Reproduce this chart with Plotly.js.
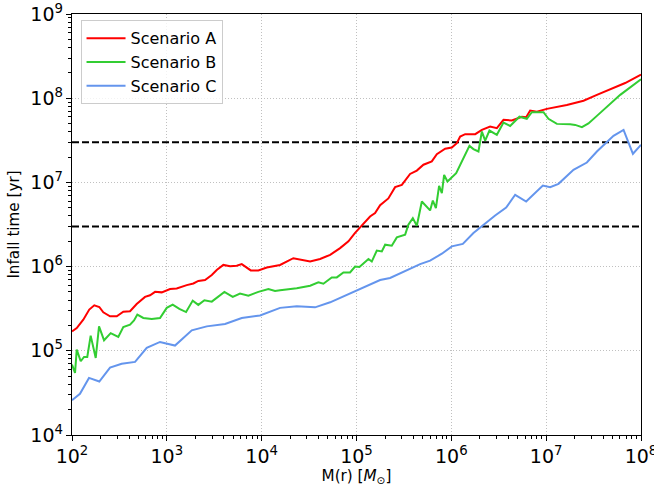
<!DOCTYPE html>
<html>
<head>
<meta charset="utf-8">
<script src="https://cdn.plot.ly/plotly-3.0.1.min.js"></script>
<style>html,body{margin:0;padding:0;background:#fff;}#chart{width:654px;height:490px;}</style>
</head>
<body>
<div id="chart"></div>
<script>
// log10 of enclosed mass M(r) [Msun] and log10 of infall time [yr]
const logMassA = [2.0,2.050,2.119,2.182,2.235,2.288,2.330,2.401,2.472,2.541,2.612,2.682,2.770,2.823,2.876,2.946,3.034,3.104,3.210,3.280,3.332,3.403,3.474,3.526,3.596,3.667,3.737,3.790,3.885,3.965,4.054,4.194,4.334,4.511,4.616,4.722,4.827,4.915,4.985,5.056,5.143,5.196,5.249,5.336,5.407,5.478,5.565,5.636,5.706,5.794,5.847,5.935,6.005,6.058,6.093,6.146,6.252,6.322,6.409,6.480,6.550,6.638,6.744,6.789,6.831,6.902,7.007,7.218,7.394,7.535,7.710,7.833,8.0];
const logTimeA = [5.231,5.27,5.37,5.49,5.54,5.52,5.457,5.41,5.41,5.465,5.47,5.556,5.64,5.66,5.70,5.694,5.734,5.74,5.78,5.80,5.83,5.84,5.90,5.96,6.02,6.003,6.01,6.03,5.955,5.955,5.99,6.02,6.10,6.06,6.09,6.14,6.22,6.30,6.40,6.485,6.595,6.635,6.73,6.81,6.944,6.97,7.10,7.14,7.21,7.25,7.336,7.40,7.414,7.466,7.545,7.573,7.573,7.624,7.663,7.644,7.743,7.735,7.78,7.775,7.853,7.84,7.873,7.92,7.97,8.04,8.12,8.18,8.28];

const logMassB = [2.0,2.032,2.050,2.092,2.127,2.161,2.197,2.250,2.285,2.338,2.408,2.488,2.541,2.612,2.654,2.689,2.752,2.841,2.928,2.999,3.062,3.132,3.203,3.273,3.332,3.396,3.474,3.543,3.607,3.695,3.772,3.860,3.965,4.071,4.141,4.194,4.265,4.370,4.511,4.598,4.651,4.739,4.792,4.862,4.932,4.985,5.031,5.126,5.161,5.214,5.267,5.302,5.372,5.425,5.513,5.547,5.594,5.636,5.689,5.742,5.776,5.805,5.837,5.871,5.900,5.924,5.959,6.051,6.111,6.191,6.233,6.286,6.322,6.357,6.402,6.480,6.550,6.620,6.718,6.796,6.849,6.972,7.024,7.113,7.253,7.306,7.377,7.446,7.535,7.640,7.781,8.0];
const logTimeB = [4.836,4.738,5.014,4.876,4.927,4.927,5.18,4.915,5.29,5.125,5.21,5.165,5.283,5.31,5.36,5.43,5.39,5.378,5.39,5.51,5.548,5.497,5.46,5.596,5.545,5.60,5.584,5.646,5.70,5.64,5.68,5.655,5.70,5.734,5.71,5.72,5.726,5.742,5.773,5.813,5.797,5.872,5.872,5.93,5.93,6.00,5.995,6.09,6.06,6.19,6.18,6.26,6.248,6.347,6.38,6.497,6.576,6.485,6.773,6.707,6.667,6.785,6.695,6.96,6.873,7.09,7.01,7.11,7.25,7.434,7.395,7.367,7.604,7.497,7.616,7.565,7.71,7.67,7.78,7.755,7.834,7.834,7.755,7.695,7.69,7.683,7.656,7.70,7.79,7.90,8.04,8.225];

const logMassC = [2.0,2.084,2.179,2.288,2.401,2.524,2.665,2.788,2.928,3.086,3.263,3.421,3.614,3.790,3.983,4.194,4.370,4.563,4.722,4.862,5.003,5.249,5.354,5.565,5.671,5.776,5.900,6.005,6.121,6.233,6.339,6.462,6.578,6.673,6.789,6.884,6.965,7.042,7.130,7.288,7.429,7.535,7.710,7.816,7.915,8.0];
const logTimeC = [4.413,4.49,4.678,4.635,4.80,4.845,4.868,5.034,5.105,5.062,5.243,5.29,5.319,5.39,5.42,5.51,5.528,5.516,5.576,5.647,5.714,5.84,5.865,5.97,6.03,6.07,6.153,6.24,6.27,6.398,6.497,6.607,6.70,6.853,6.773,6.873,6.963,6.944,6.983,7.15,7.236,7.367,7.553,7.624,7.34,7.446];

const seriesNames = ["Scenario A","Scenario B","Scenario C"];
const seriesColors = ["#ff0000","#32cd32","#6495ed"];
const thresholdTimes = [3e7, 3e6];
const massRange = [1e2, 1e8];

const pow10 = a => a.map(v => Math.pow(10, v));
const series = [[logMassA, logTimeA],[logMassB, logTimeB],[logMassC, logTimeC]];

const traces = [];
thresholdTimes.forEach(t => {
  traces.push({x: massRange, y: [t, t], mode: 'lines', showlegend: false, hoverinfo: 'skip',
    line: {color: '#000', width: 2, dash: '7px,3px'}});
});
series.forEach((s, i) => {
  traces.push({x: pow10(s[0]), y: pow10(s[1]), mode: 'lines', name: seriesNames[i],
    line: {color: seriesColors[i], width: 2}});
});

const font = {family: 'DejaVu Sans, sans-serif', size: 15.2, color: '#000'};
const axisCommon = {
  type: 'log', dtick: 1, exponentformat: 'power', showexponent: 'all',
  showline: true, mirror: true, linecolor: '#000', linewidth: 1,
  ticks: 'outside', ticklen: 5, tickwidth: 1, tickcolor: '#000',
  showgrid: true, gridcolor: '#b0b0b0', griddash: '1px,2px', gridwidth: 0.8,
  zeroline: false, tickfont: font, ticklabeloverflow: 'allow',
  minor: {ticks: 'outside', ticklen: 3, tickcolor: '#000', showgrid: false}
};

const layout = {
  width: 654, height: 490,
  margin: {l: 72, r: 13, t: 14, b: 55},
  paper_bgcolor: '#fff', plot_bgcolor: '#fff',
  font: font,
  showlegend: true,
  legend: {x: 0.015, y: 0.985, xanchor: 'left', yanchor: 'top',
    bgcolor: 'rgba(255,255,255,0.8)', bordercolor: '#cccccc', borderwidth: 1,
    itemwidth: 39,
    font: {family: 'DejaVu Sans, sans-serif', size: 16}, tracegroupgap: 0},
  xaxis: Object.assign({}, axisCommon, {range: [2, 8],
    title: {text: 'M(r) [<i>M</i><sub>⊙</sub>]', font: font, standoff: 4}}),
  yaxis: Object.assign({}, axisCommon, {range: [4, 9],
    title: {text: 'Infall time [yr]', font: font, standoff: 6}})
};

Plotly.newPlot('chart', traces, layout, {displayModeBar: false, staticPlot: true});
</script>
</body>
</html>
